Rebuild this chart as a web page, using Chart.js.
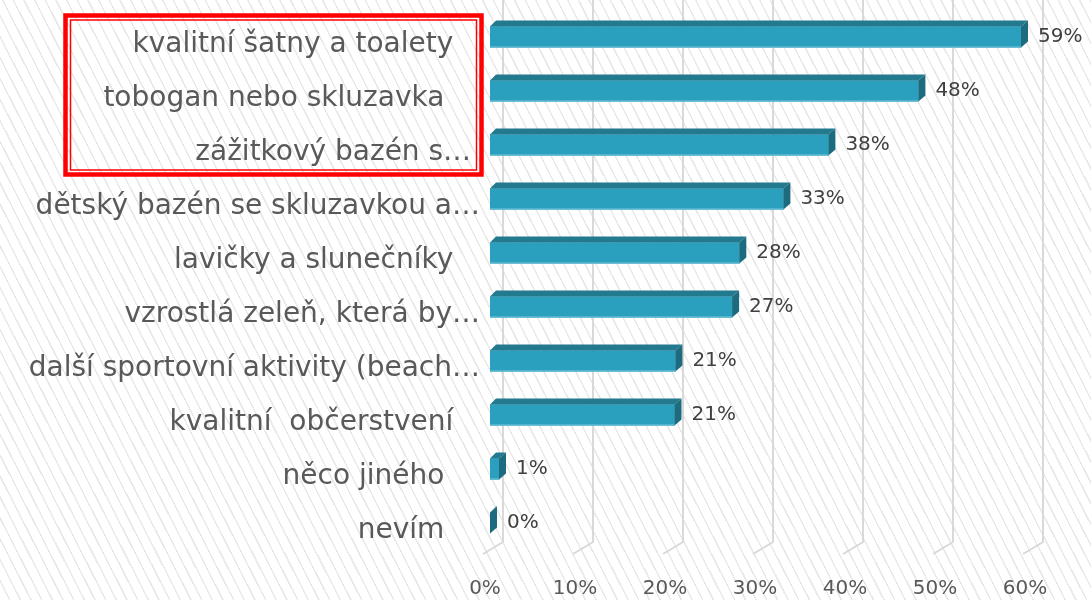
<!DOCTYPE html>
<html>
<head>
<meta charset="utf-8">
<script src="https://cdn.jsdelivr.net/npm/chart.js@4"></script>
<style>
  html, body { margin: 0; padding: 0; }
  body {
    width: 1091px; height: 600px; overflow: hidden;
    background: #ffffff repeating-linear-gradient(63deg, #ffffff 0px, #ffffff 8px, #e9e9e9 8px, #e9e9e9 9.5px);
  }
  canvas { display: block; }
</style>
</head>
<body>
<canvas id="c" width="1091" height="600"></canvas>
<script>
const categories = [
  "kvalitní šatny a toalety   ",
  "tobogan nebo skluzavka    ",
  "zážitkový bazén s… ",
  "dětský bazén se skluzavkou a…",
  "lavičky a slunečníky   ",
  "vzrostlá zeleň, která by…",
  "další sportovní aktivity (beach…",
  "kvalitní  občerstvení   ",
  "něco jiného    ",
  "nevím    "
];
const values = [59, 47.6, 37.6, 32.6, 27.7, 26.9, 20.6, 20.5, 1, 0];
const valueLabels = ["59%", "48%", "38%", "33%", "28%", "27%", "21%", "21%", "1%", "0%"];
const xTickValues = [0, 10, 20, 30, 40, 50, 60];

const FONT = "'DejaVu Sans', Verdana, sans-serif";
const DX = 7, DY = 6;

const grid3d = {
  id: 'grid3d',
  beforeDatasetsDraw(chart) {
    const ctx = chart.ctx, xs = chart.scales.x;
    ctx.save();
    ctx.strokeStyle = '#d9d9d9';
    ctx.lineWidth = 2;
    xTickValues.forEach(v => {
      const px = xs.getPixelForValue(v) + 13;
      ctx.beginPath();
      ctx.moveTo(px, 0);
      ctx.lineTo(px, 542);
      ctx.lineTo(px - 20, 554);
      ctx.stroke();
    });
    ctx.restore();
  }
};

const bars3d = {
  id: 'bars3d',
  afterDatasetsDraw(chart) {
    const ctx = chart.ctx;
    const meta = chart.getDatasetMeta(0);
    ctx.save();
    meta.data.forEach((bar, i) => {
      const x0 = bar.base, x1 = bar.x;
      const top = bar.y - bar.height / 2, bot = bar.y + bar.height / 2;
      ctx.fillStyle = '#237a8f';
      ctx.beginPath();
      ctx.moveTo(x0, top);
      ctx.lineTo(x0 + DX - 1, top - DY);
      ctx.lineTo(x1 + DX, top - DY);
      ctx.lineTo(x1, top);
      ctx.closePath();
      ctx.fill();
      ctx.fillStyle = '#1d6b7e';
      ctx.beginPath();
      ctx.moveTo(x1, top);
      ctx.lineTo(x1 + DX, top - DY);
      ctx.lineTo(x1 + DX, bot - DY);
      ctx.lineTo(x1, bot);
      ctx.closePath();
      ctx.fill();
      if (x1 - x0 > 1) {
        ctx.fillStyle = '#7cc8dc';
        ctx.fillRect(x0, bot - 1, x1 - x0, 1);
      }
      ctx.fillStyle = '#404040';
      ctx.font = '20px ' + FONT;
      ctx.textAlign = 'left';
      ctx.textBaseline = 'middle';
      ctx.fillText(valueLabels[i], x1 + DX + 10, bar.y);
    });
    ctx.restore();
  }
};

const redBox = {
  id: 'redBox',
  afterDraw(chart) {
    const ctx = chart.ctx;
    ctx.save();
    ctx.strokeStyle = '#ff0000';
    ctx.lineWidth = 4.5;
    ctx.strokeRect(65.5, 15.5, 416, 159);
    ctx.lineWidth = 1.5;
    ctx.strokeRect(70.5, 20, 406, 150);
    ctx.restore();
  }
};

new Chart(document.getElementById('c'), {
  type: 'bar',
  data: {
    labels: categories,
    datasets: [{
      data: values,
      backgroundColor: '#2b9fbe',
      barThickness: 21
    }]
  },
  options: {
    indexAxis: 'y',
    responsive: false,
    animation: false,
    layout: { padding: { top: 10, right: 61, left: 0, bottom: 0 } },
    plugins: { legend: { display: false }, tooltip: { enabled: false } },
    scales: {
      x: {
        min: 0, max: 60,
        afterBuildTicks(scale) { scale.ticks = xTickValues.map(v => ({ value: v })); },
        ticks: {
          callback: v => v + '%',
          font: { family: FONT, size: 20 },
          color: '#595959',
          padding: 27,
          labelOffset: -5,
          maxRotation: 0
        },
        grid: { display: false, drawTicks: false },
        border: { display: false },
        afterFit(scale) { scale.height = 50; scale.paddingLeft = 0; scale.paddingRight = 0; }
      },
      y: {
        ticks: {
          font: { family: FONT, size: 28 },
          color: '#595959',
          padding: 10,
          labelOffset: 8,
          autoSkip: false
        },
        grid: { display: false, drawTicks: false },
        border: { display: false },
        afterFit(scale) { scale.width = 490; scale.paddingTop = 0; scale.paddingBottom = 0; }
      }
    }
  },
  plugins: [grid3d, bars3d, redBox]
});
</script>
</body>
</html>
